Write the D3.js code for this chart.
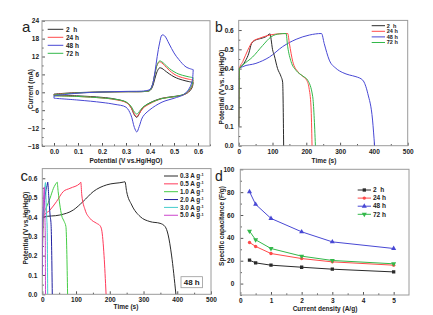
<!DOCTYPE html>
<html><head><meta charset="utf-8">
<script src="https://cdn.jsdelivr.net/npm/d3@7"></script>
<style>
html,body{margin:0;padding:0;background:#fff;}
svg text{font-family:"Liberation Sans",Arial,sans-serif;font-weight:bold;fill:#222;}
</style></head>
<body>
<svg id="chart" width="433" height="315"></svg>
<script>
// ---------- DATA ----------
// Panel a: cyclic voltammetry (potential V, current mA)
const cvSeries = ["2  h", "24 h", "48 h", "72 h"];
const cvFwdV = [0, 0.05, 0.10, 0.20, 0.30, 0.38, 0.40, 0.41, 0.42, 0.43, 0.44, 0.45, 0.46, 0.48, 0.50, 0.52, 0.55, 0.58];
const cvFwd2h  = [-0.6, -0.3, -0.1, 0.1, 0.2, 0.3, 0.6, 1.8, 4.5, 7.0, 8.2, 8.0, 7.4, 6.2, 5.2, 4.5, 3.8, 3.3];
const cvFwd24h = [-0.8, -0.4, -0.2, 0.1, 0.2, 0.3, 0.7, 2.5, 6.0, 9.2, 10.2, 9.8, 9.0, 7.4, 6.1, 5.3, 4.6, 4.1];
const cvFwd48h = [-1.2, -0.7, -0.3, 0.1, 0.3, 0.5, 1.0, 2.5, 6.5, 12.0, 16.5, 19.2, 19.0, 16.2, 13.2, 11.0, 8.5, 7.6];
const cvFwd72h = [-0.9, -0.5, -0.2, 0.1, 0.2, 0.3, 0.7, 2.5, 6.0, 9.3, 10.5, 10.2, 9.5, 8.0, 6.9, 6.1, 5.4, 4.9];
const cvRevV = [0.58, 0.575, 0.56, 0.54, 0.50, 0.45, 0.40, 0.37, 0.355, 0.345, 0.335, 0.32, 0.30, 0.25, 0.20, 0.10, 0.0];
const cvRev2h  = [3.3, 1.5, 0.0, -0.8, -1.4, -2.0, -3.5, -5.2, -7.2, -8.4, -7.6, -5.0, -3.3, -2.2, -1.7, -1.2, -0.9];
const cvRev24h = [4.1, 2.0, 0.2, -0.8, -1.5, -2.1, -3.8, -5.4, -7.2, -8.1, -7.3, -5.0, -3.4, -2.4, -1.9, -1.4, -1.1];
const cvRev48h = [7.6, 3.5, 0.8, -0.8, -2.0, -3.3, -5.8, -8.2, -11.5, -13.3, -11.8, -7.5, -5.0, -4.0, -3.4, -2.6, -2.0];
const cvRev72h = [4.9, 2.4, 0.4, -0.7, -1.5, -2.1, -3.6, -5.0, -6.5, -7.3, -6.6, -4.6, -3.2, -2.3, -1.9, -1.4, -1.2];

// Panel b: charge-discharge at different times (time s, potential V)
const gcdT2h  = [0, 2, 10, 20, 30, 38, 50, 65, 80, 93, 96, 100, 105, 115, 125, 130, 133];
const gcdV2h  = [0.10, 0.40, 0.415, 0.44, 0.48, 0.53, 0.548, 0.556, 0.565, 0.58, 0.55, 0.50, 0.47, 0.40, 0.36, 0.33, 0.0];
const gcdT24h = [0, 2, 12, 27, 41, 61, 81, 110, 145, 150, 160, 175, 191, 201, 208, 214, 217];
const gcdV24h = [0.10, 0.40, 0.436, 0.496, 0.54, 0.557, 0.569, 0.579, 0.582, 0.53, 0.436, 0.384, 0.358, 0.34, 0.30, 0.20, 0.0];
const gcdT48h = [0, 2, 12, 51, 91, 130, 170, 209, 245, 253, 268, 288, 308, 327, 347, 367, 382, 396, 402];
const gcdV48h = [0.10, 0.40, 0.41, 0.427, 0.46, 0.514, 0.552, 0.574, 0.582, 0.53, 0.444, 0.401, 0.379, 0.367, 0.358, 0.34, 0.27, 0.133, 0.0];
const gcdT72h = [0, 2, 12, 41, 71, 96, 120, 140, 145, 155, 170, 190, 204, 219, 227];
const gcdV72h = [0.10, 0.40, 0.418, 0.46, 0.52, 0.565, 0.58, 0.582, 0.513, 0.436, 0.39, 0.361, 0.34, 0.254, 0.0];

// Panel c: 48 h sample at different current densities
const rateLabels = ["0.3 A g", "0.5 A g", "1.0 A g", "2.0 A g", "3.0 A g", "5.0 A g"];
const rT03 = [0, 2, 52, 92, 121, 151, 191, 240, 245, 250, 265, 290, 319, 349, 364, 373, 383, 396];
const rV03 = [0.10, 0.40, 0.41, 0.436, 0.48, 0.531, 0.566, 0.58, 0.582, 0.531, 0.462, 0.402, 0.376, 0.367, 0.35, 0.307, 0.203, 0.0];
const rT05 = [0, 2, 23, 42, 62, 82, 112, 114, 117, 127, 141, 161, 171, 176, 183, 189];
const rV05 = [0.10, 0.40, 0.436, 0.479, 0.531, 0.548, 0.574, 0.58, 0.514, 0.436, 0.393, 0.367, 0.355, 0.333, 0.20, 0.0];
const rT10 = [0, 2, 13, 23, 33, 43, 44, 47, 52, 57, 65, 70, 75];
const rV10 = [0.10, 0.40, 0.453, 0.497, 0.548, 0.578, 0.58, 0.531, 0.462, 0.41, 0.376, 0.35, 0.0];
const rT20 = [0, 1, 3, 10, 15.5, 16, 19, 23, 26, 29.6];
const rV20 = [0.10, 0.40, 0.43, 0.53, 0.575, 0.58, 0.51, 0.41, 0.36, 0.0];
const rT30 = [0, 1, 2, 6, 9, 9.5, 11, 13, 14.5, 16];
const rV30 = [0.10, 0.38, 0.42, 0.52, 0.575, 0.578, 0.50, 0.40, 0.34, 0.0];
const rT50 = [0, 0.8, 1.5, 4, 5.5, 6, 7, 8, 8.8, 9.5];
const rV50 = [0.10, 0.35, 0.40, 0.50, 0.55, 0.555, 0.48, 0.38, 0.30, 0.0];

// Panel d: specific capacitance vs current density
const currentDensity = [0.3, 0.5, 1, 2, 3, 5];
const cap2h  = [20.5, 18.1, 16.1, 14.3, 12.6, 10.2];
const cap24h = [36.0, 32.5, 26.3, 21.9, 19.0, 16.1];
const cap48h = [80.4, 69.3, 57.0, 45.3, 36.5, 30.7];
const cap72h = [45.9, 38.3, 30.7, 24.0, 20.2, 17.3];

// ---------- STYLE ----------
const C4 = ["#2a2a2a", "#ff4a4a", "#4848d4", "#33b84a"];
const C6 = ["#2a2a2a", "#ff3a5a", "#44cc44", "#2020a0", "#44cccc", "#cc44cc"];
const svg = d3.select("#chart");
const zip = (a, b) => a.map((v, i) => [v, b[i]]);

function panel(o) {
  const g = svg.append("g");
  const x = d3.scaleLinear().domain(o.xd).range(o.xr);
  const y = d3.scaleLinear().domain(o.yd).range(o.yr);
  const clipId = "clip" + o.id;
  svg.append("clipPath").attr("id", clipId).append("rect")
    .attr("x", o.xr[0]).attr("y", o.yr[1]).attr("width", o.xr[1] - o.xr[0]).attr("height", o.yr[0] - o.yr[1]);
  const fs = "6.5px";
  // minor ticks
  g.append("g").attr("transform", `translate(0,${o.yr[0]})`)
    .call(d3.axisBottom(x).tickValues(o.xMinor).tickSize(-1.6).tickFormat(""))
    .call(s => { s.select(".domain").remove(); s.selectAll("line").attr("stroke", "#555"); });
  g.append("g").attr("transform", `translate(${o.xr[0]},0)`)
    .call(d3.axisLeft(y).tickValues(o.yMinor).tickSize(-1.6).tickFormat(""))
    .call(s => { s.select(".domain").remove(); s.selectAll("line").attr("stroke", "#555"); });
  g.append("g").attr("transform", `translate(0,${o.yr[0]})`)
    .call(d3.axisBottom(x).tickValues(o.xTicks).tickSize(-3).tickPadding(3.5).tickFormat(o.xf))
    .call(s => { s.select(".domain").remove(); s.selectAll("line").attr("stroke", "#555");
      s.selectAll("text").attr("font-size", fs).attr("fill", "#222").attr("font-family", null); });
  g.append("g").attr("transform", `translate(${o.xr[0]},0)`)
    .call(d3.axisLeft(y).tickValues(o.yTicks).tickSize(-3).tickPadding(o.yPad).tickFormat(o.yf))
    .call(s => { s.select(".domain").remove(); s.selectAll("line").attr("stroke", "#555");
      s.selectAll("text").attr("font-size", fs).attr("fill", "#222").attr("font-family", null); });
  g.append("rect").attr("x", o.xr[0]).attr("y", o.yr[1]).attr("width", o.xr[1] - o.xr[0])
    .attr("height", o.yr[0] - o.yr[1]).attr("fill", "none").attr("stroke", "#9a9a9a").attr("stroke-width", 1);
  // titles
  g.append("text").attr("x", o.xl[0]).attr("y", o.xl[1]).attr("text-anchor", "middle")
    .attr("dy", "0.35em").attr("font-size", fs).text(o.xTitle);
  g.append("text").attr("transform", `translate(${o.yl[0]},${o.yl[1]}) rotate(-90)`)
    .attr("text-anchor", "middle").attr("dy", "0.35em").attr("font-size", fs).text(o.yTitle);
  g.append("text").attr("x", o.letter[0]).attr("y", o.letter[1]).attr("font-size", o.letter[3] + "px")
    .attr("font-weight", "normal").style("font-weight", "normal").attr("fill", "#111").text(o.letter[2]);
  const plot = g.append("g").attr("clip-path", `url(#${clipId})`);
  return { g, x, y, plot };
}

// ---------- PANEL A ----------
{
  const p = panel({ id: "a", xd: [-0.05, 0.65], xr: [42, 210], yd: [-18, 24], yr: [146, 20.7],
    xTicks: [0, 0.1, 0.2, 0.3, 0.4, 0.5, 0.6], xMinor: d3.range(-0.05, 0.66, 0.05).map(v => +v.toFixed(2)),
    yTicks: [-18, -12, -6, 0, 6, 12, 18, 24], yMinor: [-15, -9, -3, 3, 9, 15, 21],
    xf: d3.format(".1f"), yf: d3.format("d"), yPad: 3,
    xTitle: "Potential (V vs.Hg/HgO)", xl: [126, 160.5], yTitle: "Current (mA)", yl: [30.5, 89],
    letter: [22, 31.5, "a", 15] });
  const fw = [cvFwd2h, cvFwd24h, cvFwd48h, cvFwd72h];
  const rv = [cvRev2h, cvRev24h, cvRev48h, cvRev72h];
  const line = d3.line().x(d => p.x(d[0])).y(d => p.y(d[1])).curve(d3.curveCatmullRom.alpha(0.5));
  [0, 1, 3, 2].forEach(i => {
    const f = zip(cvFwdV, fw[i]), r = zip(cvRevV, rv[i]);
    p.plot.append("path").attr("d", line(f)).attr("fill", "none").attr("stroke", C4[i]).attr("stroke-width", 1);
    p.plot.append("path").attr("d", line(r)).attr("fill", "none").attr("stroke", C4[i]).attr("stroke-width", 1);
    p.plot.append("path").attr("d", d3.line().x(d => p.x(d[0])).y(d => p.y(d[1]))([r[r.length - 1], f[0]]))
      .attr("fill", "none").attr("stroke", C4[i]).attr("stroke-width", 1);
    p.plot.append("path").attr("d", d3.line().x(d => p.x(d[0])).y(d => p.y(d[1]))([f[f.length - 1], r[0]]))
      .attr("fill", "none").attr("stroke", C4[i]).attr("stroke-width", 1);
  });
  cvSeries.forEach((s, i) => {
    const yy = 29.3 + i * 8;
    p.g.append("line").attr("x1", 47.7).attr("x2", 63.3).attr("y1", yy).attr("y2", yy).attr("stroke", C4[i]).attr("stroke-width", 1);
    p.g.append("text").attr("x", 66).attr("y", yy).attr("dy", "0.35em").attr("font-size", "6.5px")
      .attr("xml:space", "preserve").style("white-space", "pre").text(s);
  });
}

// ---------- PANEL B ----------
{
  const p = panel({ id: "b", xd: [0, 500], xr: [238.7, 407.7], yd: [0, 0.65], yr: [145.7, 20.4],
    xTicks: [0, 100, 200, 300, 400, 500], xMinor: [50, 150, 250, 350, 450],
    yTicks: [0, 0.1, 0.2, 0.3, 0.4, 0.5, 0.6], yMinor: [0.05, 0.15, 0.25, 0.35, 0.45, 0.55],
    xf: d3.format("d"), yf: d3.format(".1f"), yPad: 5,
    xTitle: "Time (s)", xl: [324, 160.5], yTitle: "Potential (V vs. Hg/HgO)", yl: [222, 87],
    letter: [215, 32, "b", 14] });
  const T = [gcdT2h, gcdT24h, gcdT48h, gcdT72h], V = [gcdV2h, gcdV24h, gcdV48h, gcdV72h];
  const line = d3.line().x(d => p.x(d[0])).y(d => p.y(d[1])).curve(d3.curveMonotoneX);
  [2, 0, 1, 3].forEach(i => {
    p.plot.append("path").attr("d", line(zip(T[i], V[i]))).attr("fill", "none").attr("stroke", C4[i]).attr("stroke-width", 1);
  });
  cvSeries.forEach((s, i) => {
    const yy = 25.7 + i * 5.6;
    p.g.append("line").attr("x1", 371.7).attr("x2", 385).attr("y1", yy).attr("y2", yy).attr("stroke", C4[i]).attr("stroke-width", 1);
    p.g.append("text").attr("x", 386.8).attr("y", yy).attr("dy", "0.35em").attr("font-size", "5.5px")
      .attr("xml:space", "preserve").style("white-space", "pre").text(s);
  });
}

// ---------- PANEL C ----------
{
  const p = panel({ id: "c", xd: [0, 500], xr: [42.3, 211], yd: [0, 0.65], yr: [294.3, 168.6],
    xTicks: [0, 100, 200, 300, 400, 500], xMinor: [50, 150, 250, 350, 450],
    yTicks: [0, 0.1, 0.2, 0.3, 0.4, 0.5, 0.6], yMinor: [0.05, 0.15, 0.25, 0.35, 0.45, 0.55],
    xf: d3.format("d"), yf: d3.format(".1f"), yPad: 5,
    xTitle: "Time (s)", xl: [126, 306.7], yTitle: "Potential (V vs.Hg/HgO)", yl: [25.5, 228],
    letter: [20.5, 180.5, "c", 15] });
  const T = [rT03, rT05, rT10, rT20, rT30, rT50], V = [rV03, rV05, rV10, rV20, rV30, rV50];
  const line = d3.line().x(d => p.x(d[0])).y(d => p.y(d[1])).curve(d3.curveMonotoneX);
  [0, 1, 2, 3, 4, 5].forEach(i => {
    p.plot.append("path").attr("d", line(zip(T[i], V[i]))).attr("fill", "none").attr("stroke", C6[i]).attr("stroke-width", 1);
  });
  rateLabels.forEach((s, i) => {
    const yy = 176 + i * 7.85;
    p.g.append("line").attr("x1", 164).attr("x2", 178).attr("y1", yy).attr("y2", yy).attr("stroke", C6[i]).attr("stroke-width", 1);
    const t = p.g.append("text").attr("x", 180).attr("y", yy).attr("dy", "0.35em").attr("font-size", "6.3px").text(s);
    t.append("tspan").attr("dy", "-0.45em").attr("font-size", "3.8px").text("-1");
  });
  p.g.append("rect").attr("x", 181).attr("y", 276.7).attr("width", 21.5).attr("height", 11)
    .attr("fill", "#fff").attr("stroke", "#9a9a9a").attr("stroke-width", 0.8);
  p.g.append("text").attr("x", 191.7).attr("y", 282.2).attr("dy", "0.35em").attr("text-anchor", "middle")
    .attr("font-size", "8px").text("48 h");
}

// ---------- PANEL D ----------
{
  const p = panel({ id: "d", xd: [0, 5.5], xr: [240.3, 409], yd: [-10, 100], yr: [295, 169.3],
    xTicks: [0, 1, 2, 3, 4, 5], xMinor: [0.5, 1.5, 2.5, 3.5, 4.5],
    yTicks: [0, 20, 40, 60, 80, 100], yMinor: [-10, 10, 30, 50, 70, 90],
    xf: d3.format("d"), yf: d3.format("d"), yPad: 6,
    xTitle: "Current density (A/g)", xl: [325, 308.3], yTitle: "Specific capacitance (F/g)", yl: [221.5, 226],
    letter: [215, 180.7, "d", 14] });
  const S = [cap2h, cap24h, cap48h, cap72h];
  const syms = [d3.symbolSquare, d3.symbolCircle, d3.symbolTriangle, d3.symbolTriangle];
  const rot = [0, 0, 0, 180];
  const line = d3.line().x(d => p.x(d[0])).y(d => p.y(d[1]));
  const marker = (sel, i, cx, cy) => sel.append("path")
    .attr("d", d3.symbol().type(syms[i]).size(i === 1 ? 9 : 11)())
    .attr("transform", `translate(${cx},${cy}) rotate(${rot[i]})`).attr("fill", C4[i]);
  [0, 1, 3, 2].forEach(i => {
    const pts = zip(currentDensity, S[i]);
    p.plot.append("path").attr("d", line(pts)).attr("fill", "none").attr("stroke", C4[i]).attr("stroke-width", 1);
    pts.forEach(d => marker(p.plot, i, p.x(d[0]), p.y(d[1])));
  });
  cvSeries.forEach((s, i) => {
    const yy = 190 + i * 8.1;
    p.g.append("line").attr("x1", 357.7).attr("x2", 371).attr("y1", yy).attr("y2", yy).attr("stroke", C4[i]).attr("stroke-width", 1);
    marker(p.g, i, 364.3, yy);
    p.g.append("text").attr("x", 373).attr("y", yy).attr("dy", "0.35em").attr("font-size", "6.5px")
      .attr("xml:space", "preserve").style("white-space", "pre").text(s);
  });
}
</script>
</body></html>
